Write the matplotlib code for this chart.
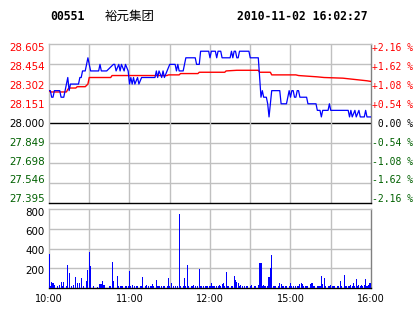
import matplotlib.pyplot as plt

plt.rcParams['font.family'] = ['DejaVu Sans', 'Noto Sans CJK SC']

# header
code = "00551"
name = "裕元集团"
stamp = "2010-11-02 16:02:27"
prev_close = 28.000

# price line (minute index since 10:00, price)
price_t = [0, 1, 2, 3, 4, 8, 9, 11, 12, 13, 14, 15, 16, 22, 23, 24, 25, 27, 28, 29,
           30, 31, 37, 38, 39, 43, 48, 49, 50, 52, 53, 54, 56, 57, 59, 60, 61, 62, 63, 64,
           66, 67, 69, 79, 80, 81, 82, 84, 85, 86, 88, 90, 94, 95, 96, 97, 100, 101, 102, 109,
           110, 112, 113, 119, 120, 121, 124, 125, 126, 128, 129, 135, 136, 137, 138, 139, 140, 141, 142, 149,
           150, 156, 157, 158, 159, 160, 162, 163, 164, 165, 166, 172, 173, 177, 178, 179, 180, 181, 182, 183,
           184, 185, 186, 187, 192, 193, 199, 200, 202, 203, 204, 208, 209, 210, 223, 224, 225, 226, 228, 229,
           231, 232, 235, 236, 237, 240]
price_v = [28.25, 28.25, 28.20, 28.20, 28.25, 28.25, 28.20, 28.20, 28.25, 28.30, 28.35, 28.25, 28.30, 28.30, 28.35, 28.35, 28.40, 28.40, 28.45, 28.50,
           28.45, 28.40, 28.40, 28.45, 28.40, 28.40, 28.45, 28.45, 28.40, 28.45, 28.40, 28.45, 28.40, 28.45, 28.40, 28.30, 28.35, 28.30, 28.35, 28.30,
           28.35, 28.30, 28.35, 28.35, 28.40, 28.35, 28.40, 28.35, 28.40, 28.35, 28.40, 28.45, 28.45, 28.40, 28.45, 28.40, 28.40, 28.45, 28.50, 28.50,
           28.45, 28.45, 28.55, 28.55, 28.50, 28.55, 28.55, 28.50, 28.55, 28.55, 28.50, 28.50, 28.55, 28.50, 28.55, 28.55, 28.50, 28.50, 28.55, 28.55,
           28.50, 28.50, 28.35, 28.20, 28.25, 28.20, 28.20, 28.15, 28.05, 28.15, 28.25, 28.25, 28.15, 28.15, 28.20, 28.25, 28.20, 28.25, 28.25, 28.20,
           28.20, 28.25, 28.25, 28.20, 28.20, 28.15, 28.15, 28.10, 28.10, 28.05, 28.10, 28.10, 28.15, 28.10, 28.10, 28.05, 28.10, 28.05, 28.10, 28.05,
           28.10, 28.05, 28.05, 28.10, 28.05, 28.05]

# average price line
avg_t = [0, 1, 13, 14, 15, 20, 21, 27, 28, 29, 30, 46, 47, 88, 89, 97, 98, 111, 112, 131,
         132, 140, 156, 157, 165, 166, 184, 186, 200, 205, 219, 228, 237, 240]
avg_v = [28.25, 28.24, 28.24, 28.26, 28.27, 28.27, 28.28, 28.28, 28.29, 28.30, 28.35, 28.35, 28.365, 28.365, 28.37, 28.37, 28.38, 28.38, 28.39, 28.39,
         28.40, 28.405, 28.405, 28.39, 28.39, 28.37, 28.37, 28.365, 28.355, 28.35, 28.345, 28.335, 28.325, 28.32]

# volume per minute (0..240)
vol = [345, 20, 65, 55, 30, 0, 20, 0, 30, 60,
       20, 60, 0, 20, 235, 155, 0, 25, 30, 0,
       115, 50, 0, 55, 100, 0, 20, 0, 75, 180,
       365, 225, 0, 20, 0, 0, 15, 0, 40, 40,
       70, 30, 0, 0, 0, 20, 20, 265, 70, 0,
       0, 125, 20, 25, 20, 20, 0, 20, 20, 25,
       175, 20, 30, 0, 20, 20, 20, 0, 20, 20,
       110, 0, 20, 30, 25, 0, 20, 40, 20, 0,
       80, 20, 20, 0, 20, 20, 20, 0, 20, 100,
       20, 55, 0, 20, 20, 0, 20, 750, 20, 0,
       20, 100, 20, 235, 20, 0, 25, 20, 30, 20,
       0, 20, 195, 20, 25, 20, 0, 20, 20, 0,
       20, 50, 20, 20, 0, 20, 20, 35, 20, 40,
       55, 20, 160, 20, 20, 0, 20, 20, 120, 80,
       60, 50, 20, 30, 20, 0, 20, 20, 20, 0,
       20, 30, 0, 20, 20, 0, 30, 255, 255, 20,
       30, 20, 0, 20, 110, 200, 335, 20, 20, 20,
       0, 20, 55, 45, 20, 20, 20, 20, 0, 20,
       55, 20, 20, 0, 20, 20, 25, 40, 50, 40,
       20, 25, 20, 20, 0, 40, 55, 20, 20, 0,
       20, 20, 20, 120, 40, 100, 20, 0, 20, 20,
       30, 20, 20, 20, 0, 25, 20, 70, 20, 0,
       130, 20, 20, 25, 20, 30, 20, 55, 20, 90,
       20, 30, 25, 30, 20, 30, 90, 20, 30, 55,
       50]

left_labels = ["28.605", "28.454", "28.302", "28.151", "28.000", "27.849", "27.698", "27.546", "27.395"]
right_labels = ["+2.16 %", "+1.62 %", "+1.08 %", "+0.54 %", " 0.00 %", "-0.54 %", "-1.08 %", "-1.62 %", "-2.16 %"]
vol_labels = ["800", "600", "400", "200"]
time_ticks = [0, 60, 120, 180, 240]
time_labels = ["10:00", "11:00", "12:00", "15:00", "16:00"]

W, H = 414, 314
grid_c = '#c0c0c0'
up_c, flat_c, down_c = '#ff0000', '#000000', '#006000'

fig = plt.figure(figsize=(W / 100, H / 100), dpi=100)
ax = fig.add_axes([49 / W, (H - 203) / H, 322 / W, 159 / H])
axv = fig.add_axes([49 / W, (H - 288) / H, 322 / W, 79 / H])

levels = [float(s) for s in left_labels]

# price panel
ax.set_xlim(0, 240)
ax.set_ylim(levels[-1], levels[0])
for lv in levels[1:-1]:
    if lv == prev_close:
        ax.axhline(lv, color='black', lw=1.0, zorder=1)
    else:
        ax.axhline(lv, color=grid_c, lw=1.0, zorder=1)
for t in range(30, 240, 30):
    ax.axvline(t, color=grid_c, lw=1.0, zorder=1)
ax.plot(avg_t, avg_v, color='#ff0000', lw=1.0, zorder=3)
ax.plot(price_t, price_v, color='#0000ff', lw=0.9, zorder=4)
ax.set_xticks([])
ax.set_yticks([])

n = len(left_labels)
for k in range(n):
    frac = 0.973 - k * 0.95 / (n - 1)
    lv = levels[k]
    c = up_c if lv > prev_close else (flat_c if lv == prev_close else down_c)
    ax.text(-4.5 / 322, frac, left_labels[k], transform=ax.transAxes,
            ha='right', va='center', fontsize=7.4, color=c)
    ax.text(1 + 1 / 322, frac, right_labels[k], transform=ax.transAxes,
            ha='left', va='center', fontsize=7, color=c, family='DejaVu Sans Mono')

# volume panel
axv.set_xlim(0, 240)
axv.set_ylim(0, 800)
for v in [200, 400, 600]:
    axv.axhline(v, color=grid_c, lw=1.0, zorder=1)
for t in range(30, 240, 30):
    axv.axvline(t, color=grid_c, lw=1.0, zorder=1)
axv.bar(range(len(vol)), vol, width=0.8, color='#0000ff', linewidth=0,
        antialiased=False, zorder=3)
axv.set_yticks([])
axv.set_xticks(time_ticks, time_labels, fontsize=7)
axv.tick_params(axis='x', length=0, pad=4)
for k, s in enumerate(vol_labels):
    axv.text(-4.5 / 322, 0.949 - k * 0.2433, s, transform=axv.transAxes,
             ha='right', va='center', fontsize=7.4, color='black')

for a in (ax, axv):
    a.spines['top'].set_color(grid_c)
    a.spines['left'].set_color(grid_c)
    a.spines['right'].set_color('#808080')
    a.spines['bottom'].set_color('black')
    for sp in a.spines.values():
        sp.set_linewidth(1.0)

# header texts
fig.text(50 / W, 1 - 17 / H, code, family='DejaVu Sans Mono', weight='bold', fontsize=8.3, va='center')
fig.text(105 / W, 1 - 16 / H, name, family=['Noto Sans CJK SC', 'DejaVu Sans'], fontsize=9, va='center')
fig.text(237 / W, 1 - 17 / H, stamp, family='DejaVu Sans Mono', weight='bold', fontsize=8.3, va='center')

fig.savefig('out.png', dpi=100, facecolor='white')
